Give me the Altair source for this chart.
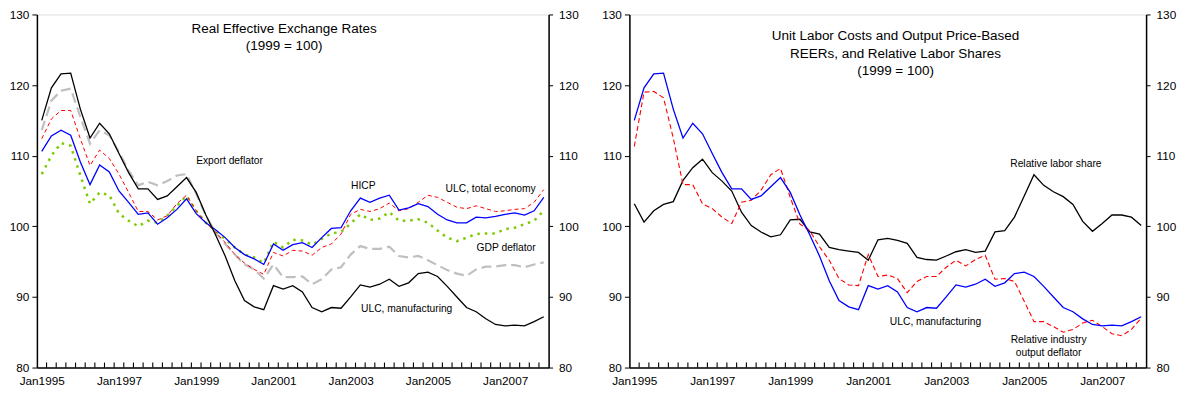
import altair as alt
import pandas as pd

# ---------------- data (quarterly, 1995Q1 .. 2008Q1) ----------------
quarters = list(range(53))
x_label_values = [0, 8, 16, 24, 32, 40, 48]
x_labels = ["Jan1995", "Jan1997", "Jan1999", "Jan2001", "Jan2003", "Jan2005", "Jan2007"]
minor_ticks = [k + 0.5 for k in range(52)]
y_ticks = [80, 90, 100, 110, 120, 130]

ulc_mfg = [115.0, 119.6, 121.6, 121.7, 116.6, 112.5, 114.6, 113.1, 110.3, 107.6, 105.3,
           105.3, 103.8, 104.3, 105.6, 106.9, 104.8, 101.6, 98.8, 95.8, 92.3,
           89.5, 88.6, 88.2, 91.6, 91.1, 91.6, 90.7, 88.5, 87.9, 88.5,
           88.4, 90.0, 91.7, 91.4, 91.8, 92.5, 91.5, 92.0, 93.3, 93.5,
           92.9, 91.5, 90.0, 88.5, 87.9, 86.9, 86.1, 85.9, 86.0, 85.9, 86.5, 87.2]
hicp = [110.6, 112.8, 113.6, 112.9, 109.1, 105.9, 108.7, 107.7, 105.0, 103.4, 101.7,
        101.9, 100.3, 101.2, 102.4, 103.9, 101.8, 100.5, 99.5, 98.4, 97.0,
        96.0, 95.4, 94.6, 97.5, 96.6, 97.4, 97.7, 97.0, 98.4, 99.7,
        99.8, 102.2, 104.0, 103.4, 104.0, 104.4, 102.3, 102.6, 103.2, 102.8,
        101.7, 100.9, 100.5, 100.5, 101.3, 101.2, 101.4, 101.7, 101.9, 101.6, 102.2, 104.1]
ulc_total = [112.4, 115.2, 116.4, 116.4, 112.4, 108.6, 110.8, 109.6, 107.4, 104.8, 102.1,
             102.1, 100.9, 101.5, 103.2, 104.4, 102.2, 100.5, 99.2, 97.7, 96.0,
             94.8, 93.9, 93.2, 96.3, 95.8, 96.6, 96.5, 95.9, 97.0, 97.5,
             98.9, 101.7, 102.4, 102.1, 102.5, 103.3, 102.2, 102.5, 103.4, 104.4,
             104.1, 103.4, 102.7, 102.5, 102.9, 102.5, 102.1, 102.2, 102.4, 102.5, 103.4, 105.2]
gdp_defl = [107.4, 110.0, 111.8, 111.4, 107.2, 103.2, 104.8, 104.4, 101.8, 100.8, 100.0,
            100.8, 100.5, 101.5, 102.9, 104.3, 102.2, 100.5, 99.4, 98.2, 97.0,
            96.0, 95.6, 94.8, 97.8, 97.0, 98.1, 98.0, 97.4, 98.2, 99.0,
            99.2, 100.4, 101.7, 100.9, 101.1, 102.0, 100.8, 100.8, 101.0, 100.5,
            99.4, 98.4, 97.9, 98.4, 98.9, 99.0, 99.0, 99.6, 99.8, 100.3, 100.8, 102.2]
export_defl = [113.6, 117.8, 119.2, 119.5, 115.5, 111.7, 113.6, 112.9, 110.5, 107.9, 105.8,
               106.3, 105.8, 106.4, 107.2, 107.4, 104.6, 101.5, 99.1, 97.5, 96.0,
               94.6, 93.9, 92.6, 94.6, 92.8, 92.8, 92.9, 91.8, 92.5, 93.9,
               94.2, 96.0, 97.2, 96.8, 96.8, 97.1, 95.8, 95.6, 95.8, 95.2,
               94.5, 93.8, 93.3, 93.0, 93.9, 94.3, 94.3, 94.5, 94.5, 94.2, 94.6, 94.9]
labor_share = [103.2, 100.6, 102.2, 103.1, 103.5, 106.5, 108.3, 109.5, 107.6, 106.4, 105.0,
               102.0, 100.1, 99.2, 98.5, 98.8, 100.9, 101.0, 99.2, 98.9, 97.0,
               96.7, 96.5, 96.3, 95.2, 98.1, 98.3, 98.0, 97.6, 95.6, 95.3,
               95.2, 95.8, 96.4, 96.7, 96.3, 96.5, 99.2, 99.4, 101.3, 104.3,
               107.3, 105.8, 104.9, 104.2, 103.1, 100.7, 99.3, 100.4, 101.6, 101.6, 101.3, 100.1]
ind_output_defl = [111.3, 119.0, 119.1, 118.2, 112.5, 105.9, 105.9, 103.2, 102.5, 101.3, 100.4,
                   103.4, 103.7, 105.1, 107.3, 108.2, 104.1, 100.3, 99.4, 97.1, 95.2,
                   92.6, 91.7, 91.6, 96.0, 92.9, 93.1, 92.6, 90.6, 92.2, 92.9,
                   92.9, 94.2, 95.2, 94.4, 95.3, 95.9, 92.5, 92.6, 92.2, 89.4,
                   86.5, 86.5, 85.8, 85.0, 85.4, 86.3, 86.7, 85.8, 84.8, 84.5, 85.4, 87.0]

left_title = ["Real Effective Exchange Rates", "(1999 = 100)"]
left_title_pos = [(25.1, 127.9), (25.1, 125.5)]
left_notes = ["Export deflator", "HICP", "ULC, total economy", "GDP deflator", "ULC, manufacturing"]
left_notes_pos = [(19.45, 109.3), (33.3, 105.75), (46.5, 105.3), (48.1, 96.9), (37.8, 88.3)]

right_title = ["Unit Labor Costs and Output Price-Based", "REERs, and Relative Labor Shares", "(1999 = 100)"]
right_title_pos = [(26.8, 126.9), (26.8, 124.4), (26.8, 122.0)]
right_notes = ["Relative labor share", "ULC, manufacturing", "Relative industry", "output deflator"]
right_notes_pos = [(43.25, 108.85), (30.9, 86.45), (42.5, 83.9), (42.5, 82.1)]

FONT = "Liberation Sans"
X_DOMAIN = [-0.5, 52.5]
Y_DOMAIN = [80, 130]
H = 354

label_expr = "[" + ",".join("'%s'" % s for s in x_labels) + "][datum.value / 8]"


def panel(width, series, title_lines, title_pos, notes, notes_pos):
    xs = alt.Scale(domain=X_DOMAIN, nice=False, zero=False)
    ys = alt.Scale(domain=Y_DOMAIN, nice=False, zero=False)
    x_axis = alt.Axis(values=x_label_values, labelExpr=label_expr, ticks=False, tickSize=0,
                      labelPadding=8, title=None, grid=False, domainColor="black",
                      domainWidth=1.5, labelFont=FONT, labelFontSize=11.8, labelColor="black")
    y_left = alt.Axis(values=y_ticks, orient="left", title=None, grid=False, tickSize=5,
                      tickColor="black", labelPadding=3, domainColor="black", domainWidth=1.5,
                      labelFont=FONT, labelFontSize=11.8, labelColor="black")
    y_right = alt.Axis(values=y_ticks, orient="right", title=None, grid=False, tickSize=4,
                       tickColor="black", labelPadding=6, domainColor="black", domainWidth=1.5,
                       labelFont=FONT, labelFontSize=11.8, labelColor="black")
    X = alt.X("q:Q", scale=xs, axis=x_axis)
    Y = alt.Y("v:Q", scale=ys, axis=y_left)

    layers = []
    for values, color, w, dash in series:
        df = pd.DataFrame({"q": quarters, "v": values})
        kw = dict(color=color, strokeWidth=w, clip=True)
        if dash:
            kw["strokeDash"] = dash
        layers.append(alt.Chart(df).mark_line(**kw).encode(x=X, y=Y))

    tdf = pd.DataFrame({"q": [p[0] for p in title_pos], "v": [p[1] for p in title_pos],
                        "t": title_lines})
    layers.append(alt.Chart(tdf).mark_text(font=FONT, fontSize=13.5, color="black",
                                           align="center", baseline="middle")
                  .encode(x=X, y=Y, text="t:N"))
    ndf = pd.DataFrame({"q": [p[0] for p in notes_pos], "v": [p[1] for p in notes_pos],
                        "t": notes})
    layers.append(alt.Chart(ndf).mark_text(font=FONT, fontSize=10.3, color="black",
                                           align="center", baseline="middle")
                  .encode(x=X, y=Y, text="t:N"))
    inner = alt.layer(*layers)

    px_per_unit = H / (Y_DOMAIN[1] - Y_DOMAIN[0])
    kdf = pd.DataFrame({"q": minor_ticks, "lo": [Y_DOMAIN[0]] * len(minor_ticks),
                        "hi": [Y_DOMAIN[0] + 5 / px_per_unit] * len(minor_ticks)})
    ticks = alt.Chart(kdf).mark_rule(color="black", strokeWidth=1.1).encode(
        x=X, y=alt.Y("lo:Q", scale=ys, axis=y_right), y2="hi:Q")

    return alt.layer(inner, ticks).resolve_scale(y="independent").properties(
        width=width, height=H)


left = panel(513, [
    (export_defl, "#BFBFBF", 2.2, [10, 5]),
    (gdp_defl, "#7CCB00", 2.5, [2.5, 5]),
    (ulc_total, "#FF0000", 1.0, [4, 3]),
    (hicp, "#0000FF", 1.3, None),
    (ulc_mfg, "#000000", 1.3, None),
], left_title, left_title_pos, left_notes, left_notes_pos)

right = panel(518, [
    (labor_share, "#000000", 1.3, None),
    (ind_output_defl, "#FF0000", 1.1, [5, 3]),
    (ulc_mfg, "#0000FF", 1.3, None),
], right_title, right_title_pos, right_notes, right_notes_pos)

chart = alt.hconcat(left, right, spacing=21).properties(
    padding={"left": 8, "top": 8, "right": 0, "bottom": 0}
).configure_view(stroke="black", strokeWidth=1.5).configure(background="white")

chart.save("out.html", embed_options={"renderer": "svg", "actions": False})
